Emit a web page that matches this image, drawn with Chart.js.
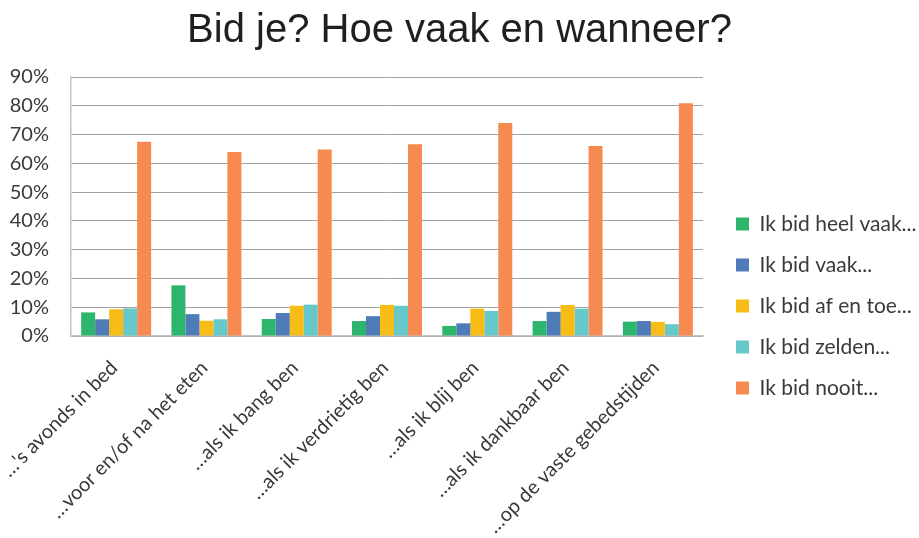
<!DOCTYPE html>
<html><head><meta charset="utf-8">
<script src="https://cdn.jsdelivr.net/npm/chart.js@4.4.1/dist/chart.umd.min.js"></script>
<style>html,body{margin:0;padding:0;background:#fff}canvas{display:block}</style>
</head><body>
<canvas id="c" width="919" height="538"></canvas>
<script>
const chartTitle = 'Bid je? Hoe vaak en wanneer?';
const categories = ['\u2026\'s avonds in bed', '\u2026voor en/of na het eten', '\u2026als ik bang ben', '\u2026als ik verdrietig ben', '\u2026als ik blij ben', '\u2026als ik dankbaar ben', '\u2026op de vaste gebedstijden'];
const seriesNames = ['Ik bid heel vaak...', 'Ik bid vaak...', 'Ik bid af en toe...', 'Ik bid zelden...', 'Ik bid nooit...'];
const heelVaak = [8.2, 17.6, 5.9, 5.2, 3.5, 5.2, 5.0];
const vaak     = [5.8, 7.6, 8.0, 6.9, 4.4, 8.4, 5.2];
const afEnToe  = [9.3, 5.3, 10.5, 10.8, 9.5, 10.8, 4.9];
const zelden   = [9.6, 5.8, 10.9, 10.5, 8.7, 9.5, 4.1];
const nooit    = [67.5, 63.9, 64.8, 66.6, 74.0, 66.0, 80.9];
const yTickValues = [0, 10, 20, 30, 40, 50, 60, 70, 80, 90];

const colors = ['#2DB56D', '#4F7BB8', '#F8BC17', '#67C8CA', '#F78A50'];
const seriesValues = [heelVaak, vaak, afEnToe, zelden, nooit];

const FONT = 'Lato';
const AXIS_FS = 20;
const LEG_FS = 21;
const textColor = '#3A3A3A';

// layout geometry
const CANVAS_W = 919;
const plotLeft = 71, plotRight = 703, plotBottom = 336;
const legendPad = 20, boxW = 13, boxX = 736;

const legendShift = {
  id: 'legendShift',
  afterLayout(chart) {
    const lg = chart.legend;
    if (!lg) return;
    const w = lg.width;
    lg.left = boxX - legendPad;
    lg.right = lg.left + w;
  }
};

new Chart(document.getElementById('c'), {
  type: 'bar',
  data: {
    labels: categories,
    datasets: seriesNames.map((n, i) => ({
      label: n,
      data: seriesValues[i],
      backgroundColor: colors[i],
      borderWidth: 0,
      categoryPercentage: 0.775,
      barPercentage: 1.0
    }))
  },
  plugins: [legendShift],
  options: {
    responsive: false,
    devicePixelRatio: 1,
    animation: false,
    layout: { padding: 0 },
    plugins: {
      title: {
        display: true, text: chartTitle,
        font: { family: 'Liberation Sans', size: 40, weight: 'normal', lineHeight: 1.2 },
        color: '#1F1F1F',
        padding: { top: 7, bottom: 22 }
      },
      legend: {
        position: 'right',
        align: 'center',
        title: { display: true, text: ' ', font: { size: 12, lineHeight: 1.2 }, padding: { top: 59.6, bottom: 0 } },
        labels: {
          boxWidth: boxW, boxHeight: boxW, padding: legendPad,
          font: { family: FONT, size: LEG_FS }, color: textColor
        }
      },
      tooltip: { enabled: false }
    },
    scales: {
      x: {
        grid: { display: false, drawTicks: false },
        border: { display: true, color: '#C4C4C4', width: 1.5 },
        ticks: {
          autoSkip: false, maxRotation: 45, minRotation: 45,
          padding: 20, labelOffset: -2,
          font: { family: FONT, size: AXIS_FS }, color: textColor
        },
        afterFit: s => {
          s.height = 538 - plotBottom;
          s.paddingLeft = 0;
          s.paddingRight = CANVAS_W - plotRight;
        }
      },
      y: {
        min: 0, max: 90,
        afterBuildTicks: s => { s.ticks = yTickValues.map(v => ({ value: v })); },
        grid: { color: '#A3A3A3', lineWidth: 1, drawTicks: false },
        border: { display: true, color: '#C4C4C4', width: 1.5 },
        ticks: {
          padding: 22,
          callback: v => v + '%',
          font: { family: FONT, size: AXIS_FS }, color: textColor
        },
        afterFit: s => { s.width = plotLeft; }
      }
    }
  }
});
</script>
</body></html>
